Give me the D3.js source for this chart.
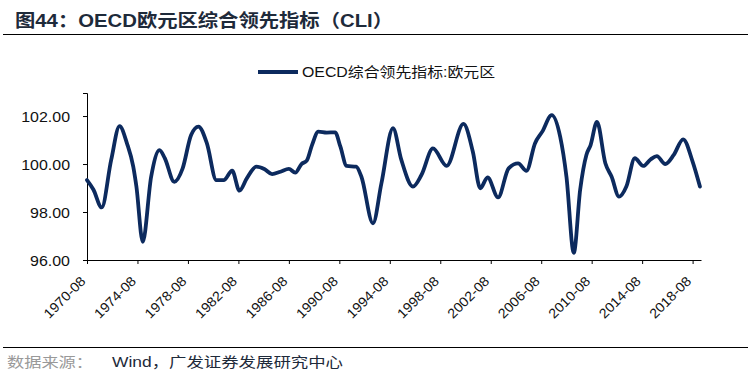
<!DOCTYPE html>
<html>
<head>
<meta charset="utf-8">
<script src="https://cdn.jsdelivr.net/npm/d3@7/dist/d3.min.js"></script>
<style>
  body { margin: 0; background: #fff; }
  svg { display: block; font-family: Arial, "Liberation Sans", "Noto Sans CJK SC", sans-serif; }
</style>
</head>
<body>
<div id="chart"></div>
<script>
// 数据：OECD综合领先指标:欧元区（从图中读取的拐点）
var dates = ["1970-08","1971-02","1971-10","1972-07","1973-03","1973-10","1974-04","1974-07","1975-01","1975-09",
  "1976-05","1976-10","1977-07","1978-03","1978-11","1979-06","1980-02","1980-11","1981-06","1982-02",
  "1982-09","1983-04","1984-01","1984-09","1985-04","1985-12","1986-08","1987-02","1987-08","1988-01",
  "1988-06","1988-12","1989-08","1990-04","1990-09","1991-03","1991-12","1992-05","1993-04","1993-12",
  "1994-11","1995-07","1996-06","1997-02","1998-01","1999-02","2000-06","2001-03","2001-10","2002-05",
  "2003-03","2004-01","2004-10","2005-06","2006-02","2006-09","2007-06","2008-02","2008-08","2009-03",
  "2009-09","2010-03","2010-07","2011-01","2011-09","2012-03","2012-10","2013-05","2014-01","2014-09",
  "2015-04","2015-10","2016-06","2017-02","2017-11","2018-08","2019-03"];
var cli = [99.33,98.94,98.19,100.17,101.58,100.86,99.89,99.06,96.76,99.47,
  100.58,100.24,99.26,99.82,101.21,101.56,100.86,99.33,99.33,99.72,
  98.89,99.40,99.89,99.78,99.58,99.68,99.80,99.64,100.00,100.14,
  100.79,101.35,101.31,101.32,100.72,99.92,99.89,99.47,97.53,99.19,
  101.49,100.17,99.06,99.54,100.65,99.92,101.67,100.51,98.99,99.44,
  98.61,99.82,100.03,99.72,100.86,101.35,102.04,101.14,99.47,96.30,
  98.92,100.38,100.79,101.76,100.03,99.47,98.64,99.06,100.24,99.92,
  100.19,100.33,100.00,100.38,101.03,100.10,99.06];
var xTicks = ["1970-08","1974-08","1978-08","1982-08","1986-08","1990-08","1994-08",
  "1998-08","2002-08","2006-08","2010-08","2014-08","2018-08"];
var yTicks = [96, 98, 100, 102];
var seriesName = "OECD综合领先指标:欧元区";

var W = 748, H = 378;
var lineColor = "#0c2a5e";
var parse = d3.timeParse("%Y-%m");
var data = dates.map(function (d, i) { return { date: parse(d), value: cli[i] }; });

var svg = d3.select("#chart").append("svg").attr("width", W).attr("height", H);

// 原图横向略被拉宽，用 textLength 拉伸文字
function stretch(sel, k) {
  sel.each(function () {
    var len = this.getComputedTextLength();
    d3.select(this).attr("textLength", len * k).attr("lengthAdjust", "spacingAndGlyphs");
  });
}

// 标题
svg.append("text").attr("x", 15).attr("y", 27)
  .style("font-size", "18px").style("font-weight", "bold").attr("fill", "#1e2a3a")
  .attr("textLength", 378).attr("lengthAdjust", "spacingAndGlyphs")
  .text("图44：OECD欧元区综合领先指标（CLI）");
svg.append("line").attr("x1", 3).attr("x2", W).attr("y1", 34.5).attr("y2", 34.5)
  .attr("stroke", "#000").attr("stroke-width", 1.2);

var x = d3.scaleTime().domain([parse("1970-08"), parse("2019-04")]).range([87, 701]);
var y = d3.scaleLinear().domain([96, 102.96]).range([260, 93]);

// y轴
var yAxis = svg.append("g").attr("transform", "translate(87,0)")
  .call(d3.axisLeft(y).tickValues(yTicks).tickSize(4).tickPadding(5).tickFormat(d3.format(".2f")));
yAxis.selectAll("line, path").attr("stroke", "#000");
yAxis.selectAll("text").style("font-size", "14px").attr("fill", "#111").attr("x", -17).attr("dy", "0.36em");
stretch(yAxis.selectAll("text"), 1.14);

// x轴
var xAxis = svg.append("g").attr("transform", "translate(0,260)")
  .call(d3.axisBottom(x).tickValues(xTicks.map(parse)).tickSize(4).tickSizeOuter(0).tickFormat(d3.timeFormat("%Y-%m")));
xAxis.selectAll("line, path").attr("stroke", "#000");
xAxis.selectAll("text")
  .style("font-size", "13.5px").attr("fill", "#111")
  .style("text-anchor", "end")
  .attr("x", 0).attr("y", 0).attr("dy", 0)
  .attr("transform", "translate(-1,22) rotate(-45)");
stretch(xAxis.selectAll("text"), 1.06);

// 折线
var line = d3.line().x(function (d) { return x(d.date); }).y(function (d) { return y(d.value); })
  .curve(d3.curveMonotoneX);
svg.append("path").datum(data).attr("d", line)
  .attr("fill", "none").attr("stroke", lineColor).attr("stroke-width", 3.8)
  .attr("stroke-linejoin", "round").attr("stroke-linecap", "round");

// 图例
svg.append("line").attr("x1", 258).attr("x2", 298).attr("y1", 72).attr("y2", 72)
  .attr("stroke", lineColor).attr("stroke-width", 3.8);
svg.append("text").attr("x", 302).attr("y", 77).style("font-size", "14px").attr("fill", "#111")
  .attr("textLength", 193).attr("lengthAdjust", "spacingAndGlyphs")
  .text(seriesName);

// 来源
svg.append("line").attr("x1", 3).attr("x2", W).attr("y1", 347.5).attr("y2", 347.5)
  .attr("stroke", "#000").attr("stroke-width", 1);
svg.append("text").attr("x", 7).attr("y", 367).style("font-size", "14px").attr("fill", "#999")
  .attr("textLength", 86).attr("lengthAdjust", "spacingAndGlyphs")
  .text("数据来源：");
svg.append("text").attr("x", 112).attr("y", 367).style("font-size", "14px").attr("fill", "#1e2a3a")
  .attr("textLength", 231).attr("lengthAdjust", "spacingAndGlyphs")
  .text("Wind，广发证券发展研究中心");
</script>
</body>
</html>
